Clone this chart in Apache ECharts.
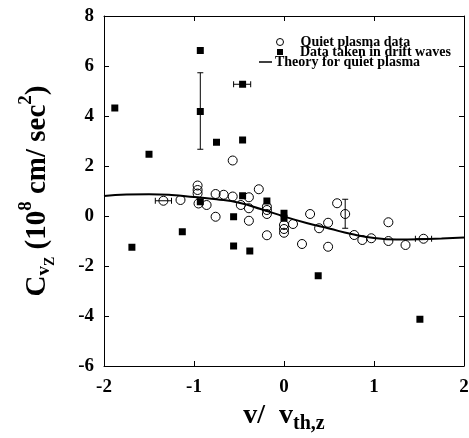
<!DOCTYPE html>
<html>
<head>
<meta charset="utf-8">
<script src="https://cdn.jsdelivr.net/npm/echarts@6/dist/echarts.min.js"></script>
<style>
html,body{margin:0;padding:0;background:#fff;}
#c{width:469px;height:438px;}
</style>
</head>
<body>
<div id="c"></div>
<script>
// Quiet plasma data (open circles)
var quietX = [-1.34,-1.15,-0.96,-0.96,-0.96,-0.95,-0.86,-0.76,-0.76,-0.67,-0.57,-0.57,-0.48,-0.39,-0.39,-0.39,-0.28,-0.19,-0.19,-0.19,-0.19,0.0,0.0,0.0,0.10,0.20,0.29,0.39,0.49,0.49,0.59,0.68,0.78,0.87,0.97,1.16,1.16,1.35,1.55];
var quietY = [0.61,0.64,1.22,1.04,0.90,0.50,0.44,0.88,-0.03,0.85,0.78,2.22,0.44,0.75,0.31,-0.19,1.07,0.37,0.24,0.08,-0.77,-0.36,-0.52,-0.67,-0.32,-1.12,0.08,-0.49,-0.27,-1.23,0.51,0.08,-0.76,-0.96,-0.89,-1.00,-0.25,-1.16,-0.91];
// Data taken in drift waves (filled squares)
var driftX = [-1.88,-1.69,-1.50,-1.13,-0.93,-0.93,-0.93,-0.75,-0.56,-0.56,-0.46,-0.46,-0.46,-0.38,-0.19,0.0,0.0,0.38,1.51];
var driftY = [4.32,-1.25,2.47,-0.63,6.62,4.18,0.57,2.95,-0.03,-1.20,5.27,3.04,0.81,-1.40,0.60,0.11,-0.09,-2.39,-4.13];
// Theory for quiet plasma (solid line)
var theoryX = [-2.0,-1.75,-1.5,-1.25,-1.0,-0.75,-0.5,-0.25,0.0,0.25,0.5,0.75,1.0,1.25,1.5,1.75,2.0];
var theoryY = [0.80,0.86,0.87,0.84,0.76,0.67,0.53,0.27,-0.02,-0.28,-0.50,-0.72,-0.88,-0.94,-0.93,-0.90,-0.86];
// Vertical error bars: x, low, high
var vErrX = [-0.93, 0.68];
var vErrLow = [2.67, -0.49];
var vErrHigh = [5.73, 0.67];
// Horizontal error bars: y, left, right
var hErrY = [5.27, 0.61, -0.91];
var hErrLeft = [-0.56, -1.43, 1.46];
var hErrRight = [-0.37, -1.25, 1.64];
// Tick labels
var xTicks = [-2,-1,0,1,2];
var yTicks = [-6,-4,-2,0,2,4,6,8];

var FONT = 'Liberation Serif';
var chart = echarts.init(document.getElementById('c'), null, {renderer:'canvas'});

function zip(a,b){ return a.map(function(v,i){ return [v,b[i]]; }); }

var vErrData = vErrX.map(function(x,i){ return [x, vErrLow[i], vErrHigh[i]]; });
var hErrData = hErrY.map(function(y,i){ return [hErrLeft[i], hErrRight[i], y]; });

var axisLabelStyle = {color:'#000', fontFamily:FONT, fontWeight:'bold', fontSize:19};
var legendText = {color:'#000', fontFamily:FONT, fontWeight:'bold', fontSize:14, lineHeight:14};

var option = {
  animation:false,
  backgroundColor:'#fff',
  grid:{left:104, right:5, top:16, bottom:72, containLabel:false, outerBoundsMode:'none'},
  legend:[
    {data:['Quiet plasma data'], left:276, top:35, padding:0, itemWidth:7, itemHeight:7, selectedMode:false,
     itemStyle:{color:'rgba(255,255,255,0)', borderColor:'#000', borderWidth:1},
     textStyle:Object.assign({padding:[0,0,0,12]}, legendText)},
    {data:['Data taken in drift waves'], left:277, top:45, padding:0, itemWidth:6, itemHeight:6, selectedMode:false,
     textStyle:Object.assign({padding:[0,0,0,12]}, legendText)},
    {data:['Theory for quiet plasma'], left:259, top:55, padding:0, itemWidth:13, itemHeight:1.5, icon:'rect', selectedMode:false,
     itemStyle:{color:'#000', borderWidth:0},
     textStyle:Object.assign({padding:[0,0,0,-2]}, legendText)}
  ],
  xAxis:[
    {type:'value', min:xTicks[0], max:xTicks[xTicks.length-1], interval:1, position:'bottom',
     name:'{m|v/  v}{s|th,z}', nameLocation:'middle', nameGap:31,
     nameTextStyle:{rich:{
       m:{fontFamily:FONT, fontWeight:'bold', fontSize:28, color:'#000'},
       s:{fontFamily:FONT, fontWeight:'bold', fontSize:20, color:'#000', padding:[16,0,0,0]}
     }},
     axisLine:{show:true, onZero:false, lineStyle:{color:'#000', width:1}},
     axisTick:{show:true, inside:true, length:5, lineStyle:{color:'#000'}},
     axisLabel:Object.assign({margin:12}, axisLabelStyle),
     splitLine:{show:false}},
    {type:'value', min:xTicks[0], max:xTicks[xTicks.length-1], interval:1, position:'top',
     axisLine:{show:true, onZero:false, lineStyle:{color:'#000', width:1}},
     axisTick:{show:true, inside:true, length:5, lineStyle:{color:'#000'}},
     axisLabel:{show:false}, splitLine:{show:false}}
  ],
  yAxis:[
    {type:'value', min:yTicks[0], max:yTicks[yTicks.length-1], interval:2, position:'left',
     name:'{m|C}{s1|v}{s2|Z}{m| (10}{sp|8}{m| cm/ sec}{sp|2}{m|)}', nameLocation:'middle', nameRotate:90, nameGap:46,
     nameTextStyle:{rich:{
       m:{fontFamily:FONT, fontWeight:'bold', fontSize:29, color:'#000'},
       s1:{fontFamily:FONT, fontWeight:'bold', fontSize:19, color:'#000', padding:[14,0,0,0]},
       s2:{fontFamily:FONT, fontWeight:'bold', fontSize:14, color:'#000', padding:[26,0,0,0]},
       sp:{fontFamily:FONT, fontWeight:'bold', fontSize:19, color:'#000', padding:[0,0,22,0]}
     }},
     axisLine:{show:true, onZero:false, lineStyle:{color:'#000', width:1}},
     axisTick:{show:true, inside:true, length:5, lineStyle:{color:'#000'}},
     axisLabel:Object.assign({margin:10}, axisLabelStyle),
     splitLine:{show:false}},
    {type:'value', min:yTicks[0], max:yTicks[yTicks.length-1], interval:2, position:'right',
     axisLine:{show:true, onZero:false, lineStyle:{color:'#000', width:1}},
     axisTick:{show:true, inside:true, length:5, lineStyle:{color:'#000'}},
     axisLabel:{show:false}, splitLine:{show:false}}
  ],
  series:[
    {name:'Theory for quiet plasma', type:'line', data:zip(theoryX, theoryY), smooth:true, symbol:'none',
     lineStyle:{color:'#000', width:2}, itemStyle:{color:'#000'}, z:2},
    {name:'Quiet plasma data', type:'scatter', data:zip(quietX, quietY), symbol:'circle', symbolSize:9,
     itemStyle:{color:'rgba(255,255,255,0)', borderColor:'#000', borderWidth:1, opacity:1}, z:3},
    {name:'Data taken in drift waves', type:'scatter', data:zip(driftX, driftY), symbol:'rect', symbolSize:7,
     itemStyle:{color:'#000', opacity:1}, z:4},
    {name:'vErr', type:'custom', data:vErrData, encode:{x:0, y:[1,2]}, z:5, silent:true,
     renderItem:function(params, api){
       var x = api.value(0), lo = api.value(1), hi = api.value(2);
       var p1 = api.coord([x, lo]), p2 = api.coord([x, hi]);
       var cw = 3;
       var st = {stroke:'#000', lineWidth:1};
       return {type:'group', children:[
         {type:'line', shape:{x1:p1[0], y1:p1[1], x2:p2[0], y2:p2[1]}, style:st},
         {type:'line', shape:{x1:p1[0]-cw, y1:p1[1], x2:p1[0]+cw, y2:p1[1]}, style:st},
         {type:'line', shape:{x1:p2[0]-cw, y1:p2[1], x2:p2[0]+cw, y2:p2[1]}, style:st}
       ]};
     }},
    {name:'hErr', type:'custom', data:hErrData, encode:{x:[0,1], y:2}, z:5, silent:true,
     renderItem:function(params, api){
       var l = api.value(0), r = api.value(1), y = api.value(2);
       var p1 = api.coord([l, y]), p2 = api.coord([r, y]);
       var ch = 3;
       var st = {stroke:'#000', lineWidth:1};
       return {type:'group', children:[
         {type:'line', shape:{x1:p1[0], y1:p1[1], x2:p2[0], y2:p2[1]}, style:st},
         {type:'line', shape:{x1:p1[0], y1:p1[1]-ch, x2:p1[0], y2:p1[1]+ch}, style:st},
         {type:'line', shape:{x1:p2[0], y1:p2[1]-ch, x2:p2[0], y2:p2[1]+ch}, style:st}
       ]};
     }}
  ]
};
chart.setOption(option);
</script>
</body>
</html>
